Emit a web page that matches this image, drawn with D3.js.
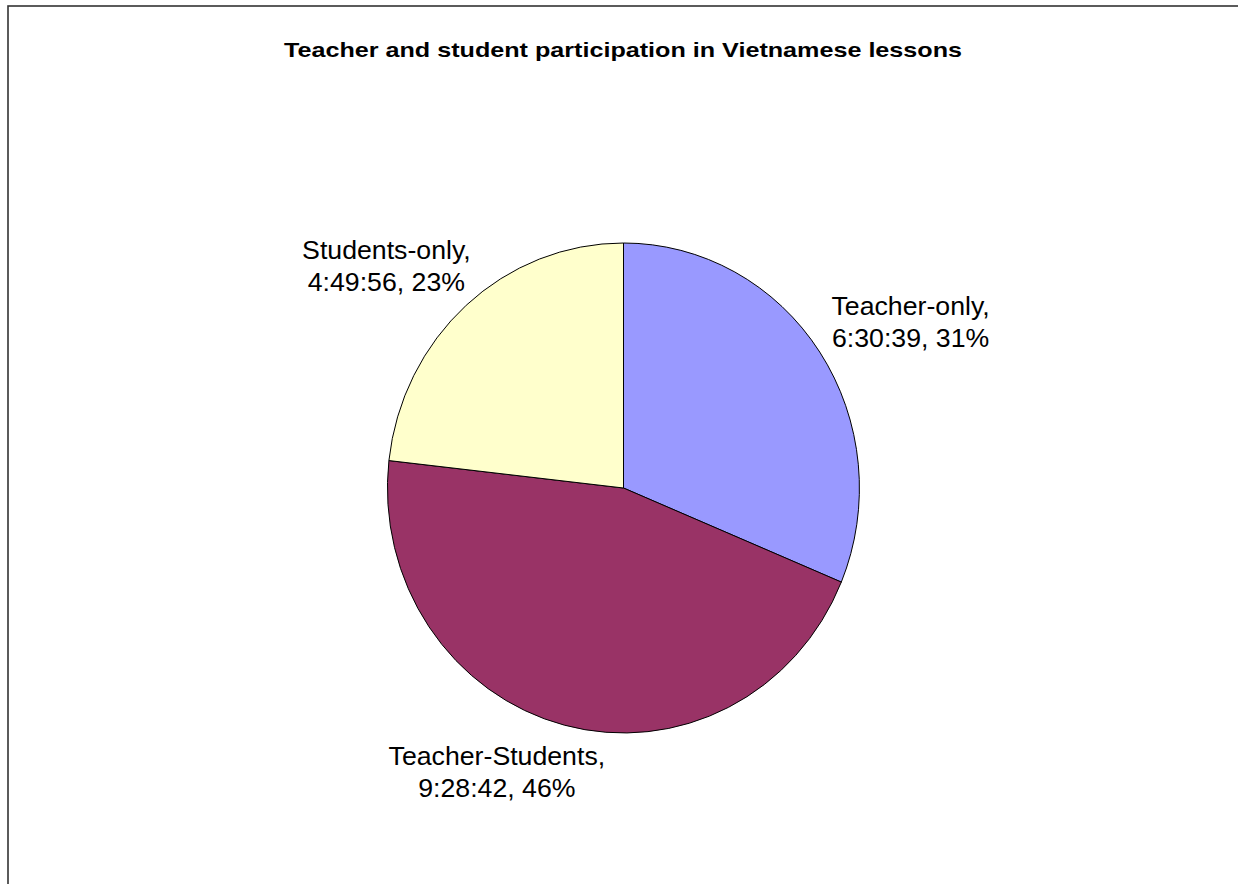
<!DOCTYPE html>
<html>
<head>
<meta charset="utf-8">
<script src="https://cdn.jsdelivr.net/npm/d3@7"></script>
<style>
  html, body { margin: 0; padding: 0; background: #fff; }
  svg { display: block; }
  text { font-family: "Liberation Sans", Arial, sans-serif; fill: #000; }
</style>
</head>
<body>
<svg id="chart" width="1238" height="884"></svg>
<script>
// Lesson time per participation mode (h:mm:ss)
const categories = ["Teacher-only", "Teacher-Students", "Students-only"];
const durations = ["6:30:39", "9:28:42", "4:49:56"];
const sliceColors = ["#9999FF", "#993366", "#FFFFCC"];
const title = "Teacher and student participation in Vietnamese lessons";

const toSeconds = s => s.split(":").map(Number).reduce((a, v) => a * 60 + v, 0);
const data = categories.map((c, i) => ({
  name: c, label: durations[i], seconds: toSeconds(durations[i]), color: sliceColors[i]
}));
const total = d3.sum(data, d => d.seconds);

const W = 1238, H = 884;
const svg = d3.select("#chart");

// chart frame (extends past the right and bottom edges)
svg.append("rect")
  .attr("x", 8).attr("y", 6)
  .attr("width", W + 20).attr("height", H + 20)
  .attr("fill", "#fff").attr("stroke", "#333").attr("stroke-width", 1.6);

svg.append("text")
  .attr("x", 623).attr("y", 57)
  .attr("text-anchor", "middle")
  .attr("font-weight", "bold")
  .attr("font-size", 21)
  .attr("textLength", 678)
  .attr("lengthAdjust", "spacingAndGlyphs")
  .text(title);

// pie plotted as a slightly tall ellipse
const cx = 623.5, cy = 488, rx = 236, ry = 245;
const pie = d3.pie().sort(null).value(d => d.seconds);
const arcs = pie(data);
const arc = d3.arc().innerRadius(0).outerRadius(1);

const g = svg.append("g")
  .attr("transform", `translate(${cx},${cy}) scale(${rx},${ry})`);
g.selectAll("path")
  .data(arcs)
  .enter().append("path")
  .attr("d", arc)
  .attr("fill", d => d.data.color)
  .attr("stroke", "#000")
  .attr("stroke-width", 1)
  .attr("vector-effect", "non-scaling-stroke");

// labels sit outside each slice along its mid-angle, then nudged clear of the edge
const labelNudge = {
  "Teacher-only": [26, 15],
  "Teacher-Students": [-48, -32],
  "Students-only": [-28, 21]
};
const k = 1.33, lineH = 32;
arcs.forEach(a => {
  const mid = (a.startAngle + a.endAngle) / 2;
  const n = labelNudge[a.data.name];
  const x = cx + rx * k * Math.sin(mid) + n[0];
  const y = cy - ry * k * Math.cos(mid) + n[1];
  const pct = Math.round(a.data.seconds / total * 100) + "%";
  const t = svg.append("text")
    .attr("text-anchor", "middle")
    .attr("font-size", 26.7);
  t.append("tspan").attr("x", x).attr("y", y - lineH / 2).attr("dy", "0.35em")
    .text(a.data.name + ",");
  t.append("tspan").attr("x", x).attr("y", y + lineH / 2).attr("dy", "0.35em")
    .text(a.data.label + ", " + pct);
});
</script>
</body>
</html>
